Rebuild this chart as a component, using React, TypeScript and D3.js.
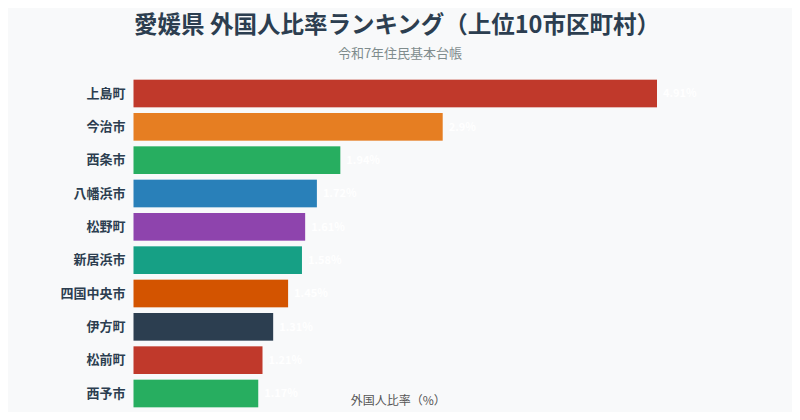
import { useEffect, useRef } from 'react';
import * as d3 from 'd3';

const municipalities = ['上島町', '今治市', '西条市', '八幡浜市', '松野町', '新居浜市', '四国中央市', '伊方町', '松前町', '西予市'];
const ratios = [4.91, 2.9, 1.94, 1.72, 1.61, 1.58, 1.45, 1.31, 1.21, 1.17];
const barColors = ['#c0392b', '#e67e22', '#27ae60', '#2980b9', '#8e44ad', '#16a085', '#d35400', '#2c3e50', '#c0392b', '#27ae60'];

const title = '愛媛県 外国人比率ランキング（上位10市区町村）';
const subtitle = '令和7年住民基本台帳';
const xLabel = '外国人比率（%）';

export default function App() {
  const containerRef = useRef<HTMLDivElement>(null);

  useEffect(() => {
    if (!containerRef.current) return;
    d3.select(containerRef.current).selectAll('*').remove();

    const width = 800;
    const height = 420;
    const margin = { top: 74, right: 143, bottom: 7, left: 133.5 };
    const font = '"Noto Sans CJK JP", "Noto Sans", sans-serif';

    const svg = d3
      .select(containerRef.current)
      .append('svg')
      .attr('width', width)
      .attr('height', height)
      .style('display', 'block')
      .style('font-family', font);

    svg.append('rect').attr('width', width).attr('height', height).attr('fill', '#f8f9fa');

    const innerWidth = width - margin.left - margin.right;
    const innerHeight = height - margin.top - margin.bottom;
    const g = svg.append('g').attr('transform', `translate(${margin.left},${margin.top})`);

    const data = municipalities.map((name, i) => ({ name, value: ratios[i], color: barColors[i] }));

    const xScale = d3
      .scaleLinear()
      .domain([0, d3.max(ratios)!])
      .range([0, innerWidth]);

    const yScale = d3
      .scaleBand()
      .domain(municipalities)
      .range([0, innerHeight])
      .padding(0.17);

    // Bars
    g.selectAll('rect.bar')
      .data(data)
      .enter()
      .append('rect')
      .attr('class', 'bar')
      .attr('x', 0)
      .attr('y', (d) => yScale(d.name)!)
      .attr('width', (d) => xScale(d.value))
      .attr('height', yScale.bandwidth())
      .attr('fill', (d) => d.color);

    // Value labels (white, right of bar)
    g.selectAll('text.value')
      .data(data)
      .enter()
      .append('text')
      .attr('class', 'value')
      .attr('x', (d) => xScale(d.value) + 6)
      .attr('y', (d) => yScale(d.name)! + yScale.bandwidth() / 2)
      .attr('dy', '0.35em')
      .attr('font-size', '11px')
      .attr('font-weight', 'bold')
      .attr('fill', '#ffffff')
      .text((d) => `${d.value}%`);

    // Category labels
    const yAxis = g.append('g').call(d3.axisLeft(yScale).tickSize(0).tickPadding(8));
    yAxis.select('.domain').remove();
    yAxis
      .selectAll('text')
      .attr('font-size', '13px')
      .attr('font-weight', 'bold')
      .attr('fill', '#2c3e50')
      .style('font-family', font);

    // Title
    svg.append('text')
      .attr('x', width / 2 - 3)
      .attr('y', 33)
      .attr('text-anchor', 'middle')
      .attr('font-size', '23.5px')
      .attr('font-weight', 'bold')
      .attr('fill', '#2c3e50')
      .text(title);

    svg.append('text')
      .attr('x', width / 2)
      .attr('y', 58)
      .attr('text-anchor', 'middle')
      .attr('font-size', '13px')
      .attr('fill', '#7f8c8d')
      .text(subtitle);

    // X axis label
    svg.append('text')
      .attr('x', margin.left + innerWidth / 2 + 3)
      .attr('y', 405)
      .attr('text-anchor', 'middle')
      .attr('font-size', '12px')
      .attr('fill', '#555555')
      .text(xLabel);
  }, []);

  return <div ref={containerRef} style={{ width: 800, height: 420, margin: -8 }}></div>;
}
